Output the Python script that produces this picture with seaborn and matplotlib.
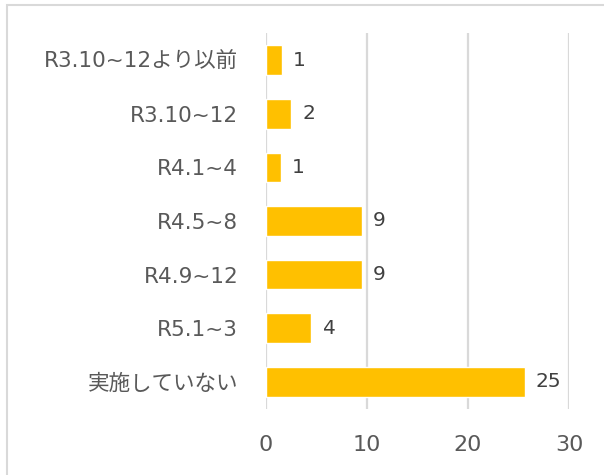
import matplotlib
matplotlib.use("Agg")
import matplotlib.pyplot as plt
import seaborn as sns
import pandas as pd
from matplotlib.patches import Rectangle

categories = ["R3.10~12より以前", "R3.10~12", "R4.1~4", "R4.5~8", "R4.9~12", "R5.1~3", "実施していない"]
bar_lengths = [1.55, 2.5, 1.5, 9.5, 9.5, 4.5, 25.6]
value_labels = ["1", "2", "1", "9", "9", "4", "25"]
x_ticks = [0, 10, 20, 30]

sns.set_theme(style="white")
plt.rcParams["font.family"] = ["DejaVu Sans", "Noto Sans CJK JP"]

df = pd.DataFrame({"cat": categories, "val": bar_lengths})

W, H = 604, 475
fig = plt.figure(figsize=(W / 100, H / 100), dpi=100)
ax = fig.add_axes([266 / W, 1 - 408.6 / H, (569 - 266) / W, (408.6 - 33.4) / H])

sns.barplot(data=df, y="cat", x="val", orient="h", color="#FFC000",
            width=0.55, saturation=1, ax=ax, order=categories)

ax.set_xlim(0, 30)
ax.set_ylim(6.5, -0.5)
ax.set_xticks(x_ticks)
ax.set_xticklabels([str(t) for t in x_ticks])
ax.set_xlabel("")
ax.set_ylabel("")

for s in ax.spines.values():
    s.set_visible(False)
ax.grid(False)
for t in x_ticks:
    ax.axvline(t, color="#D9D9D9", lw=1.6, zorder=0)

ax.tick_params(axis="y", length=0, pad=20, labelsize=15.5, labelcolor="#595959")
ax.tick_params(axis="x", length=0, pad=19, labelsize=16, labelcolor="#595959")

ax.bar_label(ax.containers[0], labels=value_labels, padding=8,
             fontsize=14.5, color="#404040")

fig.patches.append(Rectangle((7 / W, -0.1), 1.2, 1.1 - 4.5 / H,
                             transform=fig.transFigure, fill=False,
                             edgecolor="#D9D9D9", lw=1.5))

fig.savefig("out.png", dpi=100, facecolor="white")
